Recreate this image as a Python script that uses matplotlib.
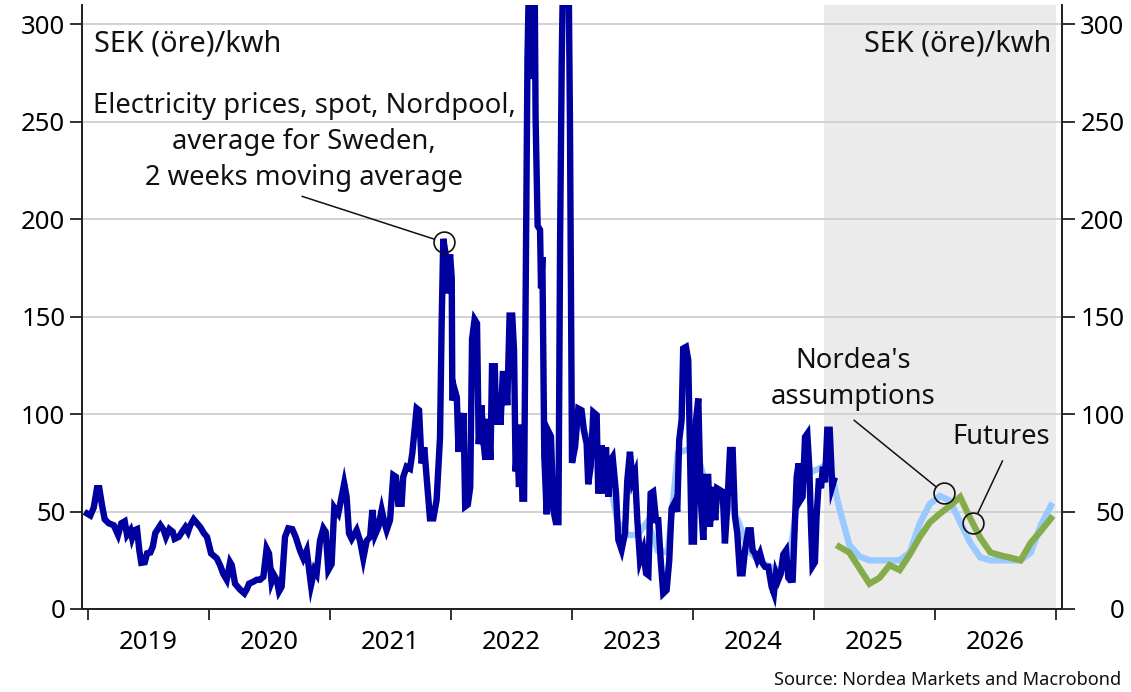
import matplotlib
matplotlib.use("Agg")
import matplotlib.pyplot as plt
from matplotlib.ticker import FixedLocator, NullFormatter, FixedFormatter

plt.rcParams['font.family'] = ['Noto Sans', 'DejaVu Sans']

# --- spot price, 2 weeks moving average (time in decimal years, SEK öre/kwh) ---
spot_t = [
    2018.992, 2019.019, 2019.047, 2019.074, 2019.093, 2019.116, 2019.138, 2019.171, 2019.212, 2019.248,
    2019.275, 2019.303, 2019.322, 2019.350, 2019.364, 2019.386, 2019.405, 2019.424, 2019.440, 2019.469,
    2019.488, 2019.515, 2019.535, 2019.556, 2019.598, 2019.625, 2019.644, 2019.672, 2019.700, 2019.716,
    2019.750, 2019.777, 2019.804, 2019.826, 2019.845, 2019.873, 2019.901, 2019.928, 2019.956, 2019.983,
    2020.017, 2020.064, 2020.091, 2020.118, 2020.146, 2020.174, 2020.188, 2020.215, 2020.256, 2020.292,
    2020.311, 2020.331, 2020.366, 2020.394, 2020.421, 2020.449, 2020.476, 2020.496, 2020.517, 2020.537,
    2020.559, 2020.578, 2020.600, 2020.628, 2020.655, 2020.688, 2020.716, 2020.752, 2020.779, 2020.807,
    2020.843, 2020.870, 2020.889, 2020.917, 2020.945, 2020.964, 2020.986, 2021.013, 2021.035, 2021.068,
    2021.096, 2021.117, 2021.137, 2021.157, 2021.179, 2021.220, 2021.248, 2021.275, 2021.303, 2021.331,
    2021.350, 2021.372, 2021.399, 2021.427, 2021.448, 2021.468, 2021.496, 2021.523, 2021.545, 2021.564,
    2021.592, 2021.605, 2021.633, 2021.661, 2021.680, 2021.716, 2021.736, 2021.757, 2021.779, 2021.798,
    2021.826, 2021.854, 2021.881, 2021.909, 2021.923, 2021.936, 2021.956, 2021.973, 2021.992, 2022.006,
    2022.011, 2022.033, 2022.048, 2022.062, 2022.074, 2022.089, 2022.103, 2022.117, 2022.139, 2022.159,
    2022.174, 2022.195, 2022.215, 2022.229, 2022.251, 2022.270, 2022.284, 2022.306, 2022.326, 2022.339,
    2022.362, 2022.373, 2022.395, 2022.409, 2022.428, 2022.451, 2022.465, 2022.484, 2022.506, 2022.521,
    2022.534, 2022.548, 2022.562, 2022.577, 2022.590, 2022.604, 2022.618, 2022.632, 2022.646, 2022.661,
    2022.679, 2022.690, 2022.699, 2022.716, 2022.736, 2022.744, 2022.755, 2022.771, 2022.791, 2022.810,
    2022.826, 2022.846, 2022.866, 2022.888, 2022.902, 2022.915, 2022.929, 2022.950, 2022.971, 2022.983,
    2023.000, 2023.025, 2023.052, 2023.079, 2023.099, 2023.121, 2023.134, 2023.154, 2023.176, 2023.204,
    2023.217, 2023.245, 2023.264, 2023.281, 2023.300, 2023.320, 2023.336, 2023.364, 2023.383, 2023.410,
    2023.438, 2023.457, 2023.479, 2023.501, 2023.521, 2023.540, 2023.562, 2023.589, 2023.612, 2023.631,
    2023.650, 2023.671, 2023.694, 2023.713, 2023.733, 2023.754, 2023.782, 2023.804, 2023.823, 2023.851,
    2023.870, 2023.886, 2023.906, 2023.919, 2023.942, 2023.961, 2023.975, 2023.989, 2024.008, 2024.025,
    2024.044, 2024.063, 2024.085, 2024.107, 2024.126, 2024.140, 2024.162, 2024.184, 2024.200, 2024.223,
    2024.245, 2024.264, 2024.283, 2024.306, 2024.328, 2024.347, 2024.366, 2024.388, 2024.410, 2024.430,
    2024.457, 2024.477, 2024.493, 2024.512, 2024.531, 2024.554, 2024.576, 2024.595, 2024.622, 2024.650,
    2024.669, 2024.686, 2024.705, 2024.725, 2024.746, 2024.769, 2024.788, 2024.802, 2024.824, 2024.843,
    2024.857, 2024.873, 2024.890, 2024.906, 2024.926, 2024.945, 2024.961, 2024.976, 2024.988, 2025.008,
    2025.021, 2025.041, 2025.058, 2025.074, 2025.091, 2025.110, 2025.130, 2025.151, 2025.165,
]
spot_v = [
    49, 48, 52, 62, 62, 53, 46, 44, 43, 38,
    44, 45, 38, 40.5, 36.5, 40.5, 41, 30, 23.7, 24,
    28.6, 29, 32, 39, 43, 40.5, 37, 41, 39.6, 36,
    37, 39.6, 42, 39.6, 43, 46, 44, 42, 39, 37,
    28.5, 26, 22.5, 18, 15, 24, 22.5, 13, 10, 8,
    10, 13, 14, 15, 15, 16.5, 31, 28.5, 14, 17.4,
    15, 9, 11.4, 37, 41.4, 41, 37, 30, 26, 30,
    12.3, 20, 18, 35, 41.4, 39.6, 20, 23, 52, 49,
    57.6, 64.4, 57.6, 38.8, 36, 40.5, 35, 26, 35, 37,
    50.8, 38, 42, 50.8, 44.8, 40.5, 45.6, 68.7, 67.8, 54,
    54, 67.8, 73, 72, 80, 103, 102, 74.7, 83, 67.8,
    46.5, 46.5, 56, 88, 148, 190, 182, 162, 182, 170,
    107, 112, 108.6, 80.6, 100.6, 82.6, 100.6, 52.6, 53.6, 62.6,
    138.6, 148.6, 146.6, 84.6, 104.6, 84.6, 76.6, 97.6, 76.6, 124.6,
    124.6, 94.6, 110.6, 94.6, 120.6, 120.6, 104.6, 150.6, 150.6, 132.6,
    70.6, 84.6, 62.6, 94.6, 56.6, 56.6, 172.6, 282.6, 330, 355,
    272, 335, 252.6, 196.6, 194.6, 164.6, 180.6, 78.6, 48.6, 90.6,
    88.6, 50.6, 44.6, 44.6, 192.6, 280.6, 340, 370, 335, 250,
    75, 83, 102.9, 102, 91.5, 84.9, 64, 73, 101, 99.5,
    59.3, 84, 59.3, 83, 57.6, 76.4, 78, 59.3, 35.5, 30.4,
    38.9, 66, 80.7, 66, 69.5, 45.6, 25.1, 30.4, 18.3, 17.4,
    59.3, 60.2, 45.6, 45.6, 25.1, 8, 9.7, 25.1, 51.6, 55,
    49.9, 86.6, 96.9, 133.7, 134.5, 127.7, 79.9, 34.6, 34.6, 96.9,
    108, 57.6, 35.5, 67.8, 67.8, 42.2, 62.7, 45.6, 61.9, 61,
    60.2, 33.7, 52.5, 81.6, 81.6, 47.4, 38.9, 18.3, 18.3, 30.1,
    40.4, 40.4, 30.1, 28.5, 25.1, 28.5, 23.4, 21.7, 21.7, 11.4,
    8, 18.3, 14.9, 18, 28, 30.1, 16, 14.9, 15, 45.6,
    67.8, 74.7, 56, 57.6, 88.3, 90, 73, 42.2, 22, 24,
    47, 67, 62, 73, 65, 92, 92, 63, 66,
]

# --- Nordea's assumptions, monthly, Jan 2023 - Dec 2026 ---
nordea_start = 2023
nordea_v = [
    100, 88, 80, 72, 45, 38, 38, 45, 30, 29, 80, 82,
    78, 60, 55, 55, 45, 30, 25, 22, 20, 22, 62, 70,
    72, 75, 52, 33, 27, 25, 25, 25, 25, 29, 44, 54,
    58, 55.5, 44.5, 34, 26.5, 25, 25, 25, 25, 29, 43, 53,
]

# --- Futures, monthly, Mar 2025 - Dec 2026 ---
futures_start = 2025 + 2 / 12
futures_v = [
    32, 29, 21, 13, 16, 22.5, 20, 28, 37, 44.5,
    49, 53, 57.5, 46.5, 36.5, 29, 27.5, 26.3, 25, 34, 40, 46.5,
]

years = [2019, 2020, 2021, 2022, 2023, 2024, 2025, 2026]
forecast_from = 2025.083

nordea_t = [nordea_start + (i + 0.5) / 12 for i in range(len(nordea_v))]
futures_t = [futures_start + (i + 0.5) / 12 for i in range(len(futures_v))]

# --- figure ---
fig = plt.figure(figsize=(11.31, 6.92), dpi=100)
ax = fig.add_axes([82 / 1131, 83 / 692, 980 / 1131, 604 / 692])

DARK = "#0000a0"
LIGHT = "#99caff"
GREEN = "#84ac4b"
FS = 18.5      # tick labels
FS_NOTE = 19.7 # annotations
LW = 4.6

ax.axvspan(forecast_from, 2027.0, color="#ebebeb", zorder=0, lw=0)
ax.set_axisbelow(True)
ax.yaxis.grid(True, color="#cfcfcf", lw=1.3)

ax.plot(nordea_t, nordea_v, color=LIGHT, lw=LW, solid_joinstyle="miter", zorder=2)
ax.plot(spot_t, spot_v, color=DARK, lw=LW, solid_joinstyle="miter", zorder=3)
ax.plot(futures_t, futures_v, color=GREEN, lw=LW, solid_joinstyle="miter", zorder=4)

ax.set_xlim(2018.95, 2027.05)
ax.set_ylim(0, 310)

# x axis: ticks at year boundaries, labels mid-year
ax.xaxis.set_major_locator(FixedLocator(years + [2027]))
ax.xaxis.set_major_formatter(NullFormatter())
ax.xaxis.set_minor_locator(FixedLocator([y + 0.5 for y in years]))
ax.xaxis.set_minor_formatter(FixedFormatter([str(y) for y in years]))
ax.tick_params(axis="x", which="major", length=8, width=1.3, color="#222222")
ax.tick_params(axis="x", which="minor", length=0, pad=15, labelsize=FS)

yt = [0, 50, 100, 150, 200, 250, 300]
ax.set_yticks(yt)
ax.tick_params(axis="y", length=9, width=1.3, color="#222222", labelsize=FS, pad=3)

ax2 = ax.twinx()
ax2.set_ylim(ax.get_ylim())
ax2.set_yticks(yt)
ax2.tick_params(axis="y", length=9, width=1.3, color="#222222", labelsize=FS, pad=36)
for lab in ax2.get_yticklabels():
    lab.set_horizontalalignment("right")

for a in (ax, ax2):
    a.spines["top"].set_visible(False)
    for s in ("left", "right", "bottom"):
        a.spines[s].set_color("#222222")
        a.spines[s].set_linewidth(1.3)

# units
ax.text(0.012, 0.935, "SEK (öre)/kwh", transform=ax.transAxes, fontsize=20.8,
        ha="left", va="center", color="#111111")
ax.text(0.989, 0.935, "SEK (öre)/kwh", transform=ax.transAxes, fontsize=20.8,
        ha="right", va="center", color="#111111", zorder=5)

# annotations
def note(text, text_xy, line_from, circle_xy):
    ax.text(text_xy[0], text_xy[1], text, ha="center", va="center",
            fontsize=FS_NOTE, color="#111111", linespacing=1.38, zorder=6)
    ax.annotate("", xy=circle_xy, xytext=line_from,
                arrowprops=dict(arrowstyle="-", lw=1.1, color="#111111",
                                shrinkA=0, shrinkB=7.5), zorder=6)
    ax.plot(*circle_xy, marker="o", ms=15, mfc="none", mec="#111111", mew=1.2, zorder=6)

note("Electricity prices, spot, Nordpool,\naverage for Sweden,\n2 weeks moving average",
     (2020.785, 239.5), (2020.769, 211.8), (2021.942, 188.2))
note("Nordea's\nassumptions", (2025.322, 117.9), (2025.331, 96.9), (2026.077, 59.3))
note("Futures", (2026.551, 88.4), (2026.559, 76.1), (2026.317, 44.3))

fig.text(0.991, 0.017, "Source: Nordea Markets and Macrobond", ha="right", va="center",
         fontsize=13.1, color="#111111")

fig.savefig("out.png", dpi=100)
